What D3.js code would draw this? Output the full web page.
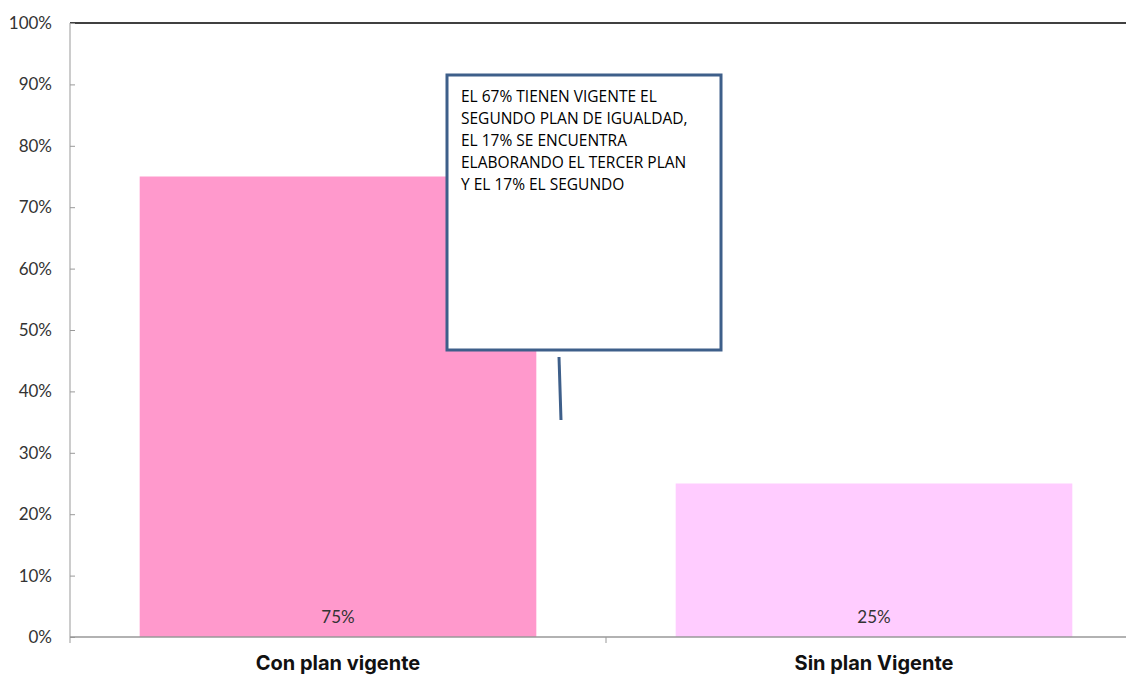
<!DOCTYPE html>
<html><head><meta charset="utf-8">
<script src="https://cdn.jsdelivr.net/npm/d3@7"></script>
<style>body{margin:0;background:#fff}svg{display:block}</style>
</head><body><svg id="c" width="1126" height="675"></svg>
<script>
const categories = ["Con plan vigente", "Sin plan Vigente"];
const values = [0.75, 0.25];
const barColors = ["#FF99CC", "#FFCCFF"];
const yTicks = [0,0.1,0.2,0.3,0.4,0.5,0.6,0.7,0.8,0.9,1.0];
const calloutLines = ["EL 67% TIENEN VIGENTE EL","SEGUNDO PLAN DE IGUALDAD,","EL 17% SE ENCUENTRA","ELABORANDO EL TERCER PLAN","Y EL 17% EL SEGUNDO"];

const svg = d3.select("#c");
const x = d3.scaleBand().domain(categories).range([70, 1142]).paddingInner(0.26).paddingOuter(0.13);
const y = d3.scaleLinear().domain([0,1]).range([637, 23]);

// top border
svg.append("line").attr("x1",70).attr("x2",1126).attr("y1",y(1)).attr("y2",y(1)).attr("stroke","#000").attr("stroke-width",1.5);

// bars
svg.selectAll("rect.bar").data(categories).enter().append("rect")
  .attr("x", d=>x(d)).attr("width", x.bandwidth())
  .attr("y", (d,i)=>y(values[i])).attr("height",(d,i)=>y(0)-y(values[i]))
  .attr("fill",(d,i)=>barColors[i]);

// value labels
svg.selectAll("text.val").data(categories).enter().append("text")
  .attr("x", d=>x(d)+x.bandwidth()/2).attr("y", 623)
  .attr("text-anchor","middle").attr("font-family","Lato, sans-serif").attr("font-size",17)
  .attr("fill","#333").text((d,i)=>d3.format(".0%")(values[i]));

// y axis
const yAxis = svg.append("g").attr("transform","translate(70,0)")
  .call(d3.axisLeft(y).tickValues(yTicks).tickFormat(d3.format(".0%")).tickSizeInner(-5).tickSizeOuter(0).tickPadding(18));
yAxis.select(".domain").attr("stroke","#999").attr("d","M0,"+y(1)+"V"+(y(0)+6));
yAxis.selectAll(".tick line").attr("stroke","#999");
yAxis.selectAll(".tick text").attr("font-family","Lato, sans-serif").attr("font-size",17).attr("fill","#333");

// x axis
const xAxis = svg.append("g").attr("transform","translate(0,"+y(0)+")")
  .call(d3.axisBottom(x).tickSize(0).tickPadding(19));
xAxis.select(".domain").attr("stroke","#999").attr("stroke-width",1.5).attr("d","M70,0H1126");
xAxis.selectAll(".tick text").attr("font-family","Inter, sans-serif").attr("font-weight","bold").attr("font-size",20).attr("fill","#111");
svg.append("line").attr("x1",(x(categories[0])+x.bandwidth()+x(categories[1]))/2).attr("x2",(x(categories[0])+x.bandwidth()+x(categories[1]))/2)
  .attr("y1",y(0)).attr("y2",y(0)+6).attr("stroke","#999");

// callout
const cg = svg.append("g");
cg.append("rect").attr("x",447).attr("y",75).attr("width",274).attr("height",275)
  .attr("fill","#fff").attr("stroke","#3E5F8A").attr("stroke-width",3);
cg.append("line").attr("x1",559).attr("y1",357).attr("x2",561).attr("y2",420).attr("stroke","#3E5F8A").attr("stroke-width",3);
cg.selectAll("text").data(calloutLines).enter().append("text")
  .attr("x",461).attr("y",(d,i)=>102+i*22)
  .attr("font-family","'Open Sans', sans-serif").attr("font-size",15.5).attr("fill","#000")
  .text(d=>d);
</script></body></html>
